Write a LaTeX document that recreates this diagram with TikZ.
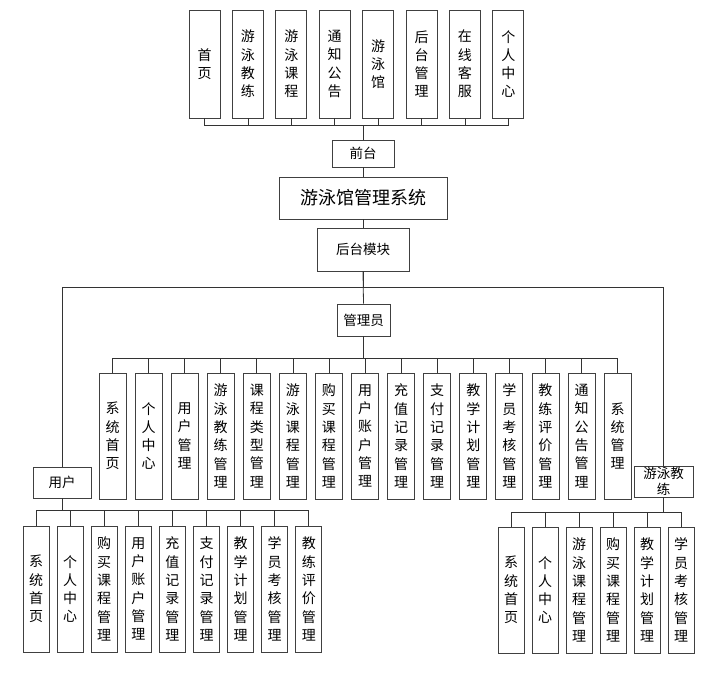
\documentclass[tikz,border=0pt]{standalone}
\usepackage{fontspec}
\newfontfamily\cjk{Noto Sans CJK SC}
\begin{document}
\begin{tikzpicture}[x=1pt,y=-1pt,
  box/.style={draw=black!75, line width=0.9pt, align=center, inner sep=0pt, fill=white,
    font=\cjk\fontsize{14}{18.3}\selectfont},
  topbox/.style={box, minimum width=31pt, minimum height=108pt},
  leaf/.style={box, minimum width=27pt, minimum height=126pt},
  leafu/.style={box, minimum width=26pt, minimum height=126pt},
  small/.style={box, font=\cjk\fontsize{13.5}{16}\selectfont},
  conn/.style={draw=black!80, line width=0.8pt}]
\useasboundingbox (0,0) rectangle (725,679);

% top row
\foreach \t [count=\i from 0] in {首\\页, 游\\泳\\教\\练, 游\\泳\\课\\程, 通\\知\\公\\告, 游\\泳\\馆, 后\\台\\管\\理, 在\\线\\客\\服, 个\\人\\中\\心}{
  \node[topbox] (t\i) at ({204.5+43.4*\i},64) {\t};
}
\node[small, minimum width=62pt, minimum height=27pt] (qt) at (363,153.5) {前台};
\node[box, minimum width=168pt, minimum height=42pt, font=\cjk\fontsize{18}{20}\selectfont] (sys) at (363,198) {游泳馆管理系统};
\node[small, minimum width=92pt, minimum height=43pt] (hb) at (363,249.5) {后台模块};
\node[small, minimum width=53pt, minimum height=32pt] (gly) at (363.5,320) {管理员};
\node[small, minimum width=58pt, minimum height=31pt] (user) at (62,482.5) {用户};
\node[small, minimum width=59pt, minimum height=31pt] (coach) at (663.5,481.5) {游泳教\\练};

\foreach \i in {0,...,7}{
  \draw[conn] (t\i.south) -- ++(0,7) -| (qt.north);
}
\draw[conn] (qt.south) -- (sys.north);
\draw[conn] (sys.south) -- (hb.north);
\draw[conn] (hb.south) -- (gly.north);
\draw[conn] (hb.south) -- ++(0,16) -| (user.north);
\draw[conn] (hb.south) -- ++(0,16) -| (coach.north);

% admin children
\foreach \t [count=\i from 0] in {系\\统\\首\\页, 个\\人\\中\\心, 用\\户\\管\\理, 游\\泳\\教\\练\\管\\理, 课\\程\\类\\型\\管\\理, 游\\泳\\课\\程\\管\\理, 购\\买\\课\\程\\管\\理, 用\\户\\账\\户\\管\\理, 充\\值\\记\\录\\管\\理, 支\\付\\记\\录\\管\\理, 教\\学\\计\\划\\管\\理, 学\\员\\考\\核\\管\\理, 教\\练\\评\\价\\管\\理, 通\\知\\公\\告\\管\\理, 系\\统\\管\\理}{
  \node[leaf] (a\i) at ({112.5+36.08*\i},436) {\t};
  \draw[conn] (gly.south) -- ++(0,22) -| (a\i.north);
}

% user children
\foreach \t [count=\i from 0] in {系\\统\\首\\页, 个\\人\\中\\心, 购\\买\\课\\程\\管\\理, 用\\户\\账\\户\\管\\理, 充\\值\\记\\录\\管\\理, 支\\付\\记\\录\\管\\理, 教\\学\\计\\划\\管\\理, 学\\员\\考\\核\\管\\理, 教\\练\\评\\价\\管\\理}{
  \node[leafu] (u\i) at ({36+34.1*\i},589) {\t};
  \draw[conn] (user.south) -- ++(0,12) -| (u\i.north);
}

% coach children
\foreach \t [count=\i from 0] in {系\\统\\首\\页, 个\\人\\中\\心, 游\\泳\\课\\程\\管\\理, 购\\买\\课\\程\\管\\理, 教\\学\\计\\划\\管\\理, 学\\员\\考\\核\\管\\理}{
  \node[leafu] (c\i) at ({511+34*\i},590) {\t};
  \draw[conn] (coach.south) -- ++(0,15) -| (c\i.north);
}
\end{tikzpicture}
\end{document}
